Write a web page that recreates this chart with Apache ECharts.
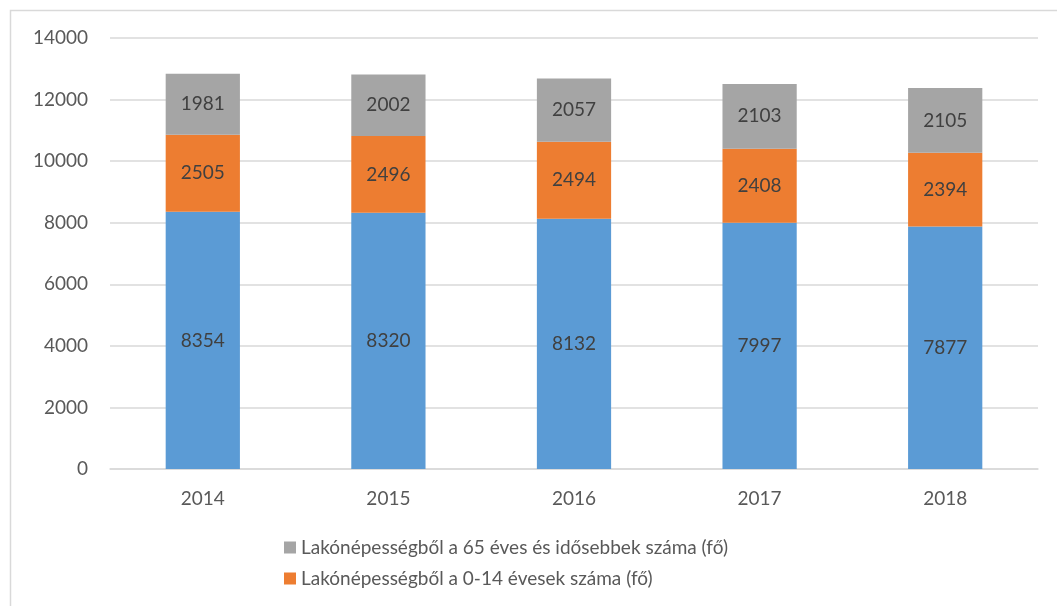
<!DOCTYPE html>
<html><head><meta charset="utf-8">
<script src="https://cdn.jsdelivr.net/npm/echarts@6/dist/echarts.min.js"></script>
<style>html,body{margin:0;padding:0;background:#fff}#c{width:1057px;height:606px}</style>
</head><body><div id="c"></div>
<script>
const categories = ['2014','2015','2016','2017','2018'];
const blueName = 'Lakónépességből a 15-64 évesek száma (fő)';
const orangeName = 'Lakónépességből a 0-14 évesek száma (fő)';
const grayName = 'Lakónépességből a 65 éves és idősebbek száma (fő)';
const blueValues = [8354, 8320, 8132, 7997, 7877];
const orangeValues = [2505, 2496, 2494, 2408, 2394];
const grayValues = [1981, 2002, 2057, 2103, 2105];
const yTicks = {min: 0, max: 14000, interval: 2000};

const font = 'Lato, "Open Sans", sans-serif';
const chart = echarts.init(document.getElementById('c'), null, {renderer: 'canvas'});
const lbl = {show: true, position: 'inside', color: '#404040', fontSize: 19, fontFamily: font};
function s(name, data, color) {
  return {name, type: 'bar', stack: 'a', data, barWidth: '40%', itemStyle: {color}, label: lbl, animation: false};
}
chart.setOption({
  animation: false,
  graphic: [{type: 'rect', shape: {x: 10.5, y: 10.5, width: 1100, height: 700}, style: {fill: 'none', stroke: '#d9d9d9', lineWidth: 1.5}, silent: true}],
  grid: {left: 110, right: 19, top: 38, bottom: 137, containLabel: false},
  legend: {
    orient: 'vertical', left: 279, top: 533, itemGap: 12, itemWidth: 12, itemHeight: 12,
    icon: 'rect', data: [grayName, orangeName],
    textStyle: {color: '#595959', fontSize: 19, fontFamily: font}
  },
  xAxis: {type: 'category', data: categories,
    axisLine: {lineStyle: {color: '#d9d9d9', width: 1.5}}, axisTick: {show: false},
    axisLabel: {color: '#595959', fontSize: 19, fontFamily: font, margin: 20}},
  yAxis: {type: 'value', min: yTicks.min, max: yTicks.max, interval: yTicks.interval,
    axisLine: {show: false}, axisTick: {show: false},
    splitLine: {lineStyle: {color: '#d9d9d9', width: 1.5}},
    axisLabel: {color: '#595959', fontSize: 19, fontFamily: font, margin: 22, formatter: v => String(v)}},
  series: [s(blueName, blueValues, '#5B9BD5'), s(orangeName, orangeValues, '#ED7D31'), s(grayName, grayValues, '#A5A5A5')]
});
</script></body></html>
